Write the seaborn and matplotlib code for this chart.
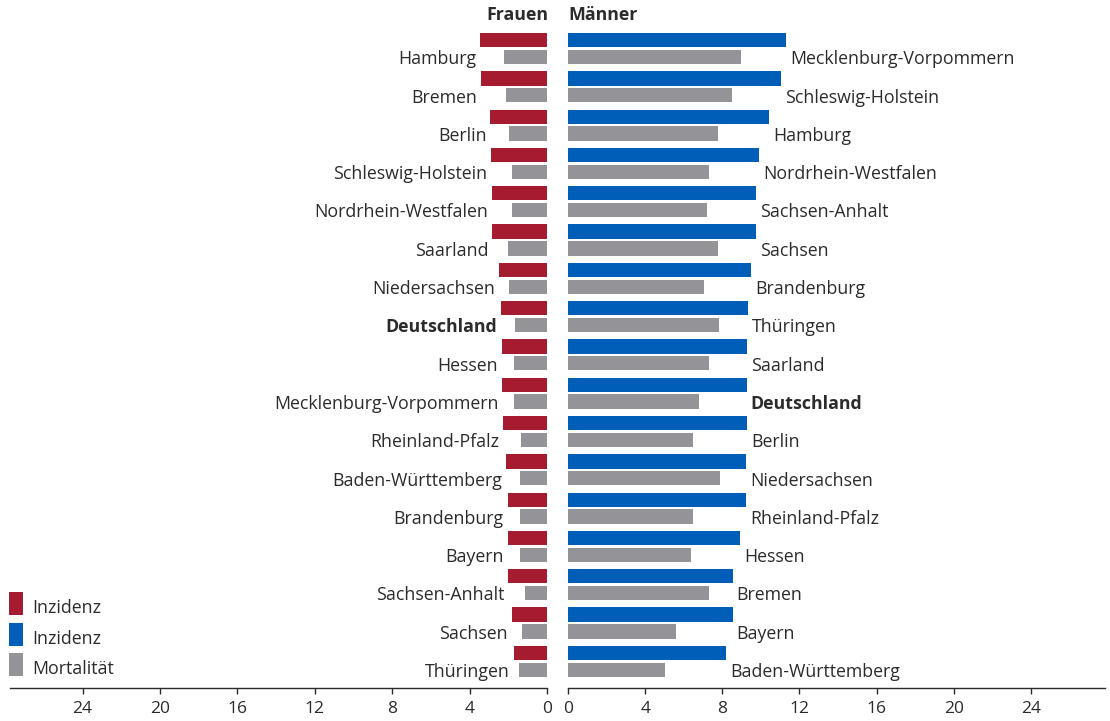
import matplotlib
matplotlib.use("Agg")
import matplotlib.pyplot as plt
from matplotlib.patches import Rectangle
import seaborn as sns
import pandas as pd

# ---------------- data ----------------
frauen_states = ["Hamburg", "Bremen", "Berlin", "Schleswig-Holstein", "Nordrhein-Westfalen",
                 "Saarland", "Niedersachsen", "Deutschland", "Hessen", "Mecklenburg-Vorpommern",
                 "Rheinland-Pfalz", "Baden-Württemberg", "Brandenburg", "Bayern",
                 "Sachsen-Anhalt", "Sachsen", "Thüringen"]
frauen_inzidenz = [3.44, 3.39, 2.92, 2.87, 2.82, 2.82, 2.50, 2.40, 2.35, 2.30,
                   2.25, 2.14, 2.04, 2.04, 1.99, 1.83, 1.73]
frauen_mortalitaet = [2.20, 2.14, 1.94, 1.83, 1.83, 2.04, 1.94, 1.63, 1.73, 1.73,
                      1.32, 1.37, 1.42, 1.37, 1.16, 1.27, 1.47]

maenner_states = ["Mecklenburg-Vorpommern", "Schleswig-Holstein", "Hamburg", "Nordrhein-Westfalen",
                  "Sachsen-Anhalt", "Sachsen", "Brandenburg", "Thüringen", "Saarland",
                  "Deutschland", "Berlin", "Niedersachsen", "Rheinland-Pfalz", "Hessen",
                  "Bremen", "Bayern", "Baden-Württemberg"]
maenner_inzidenz = [11.31, 11.05, 10.43, 9.91, 9.75, 9.75, 9.49, 9.33, 9.28,
                    9.28, 9.28, 9.23, 9.23, 8.92, 8.55, 8.55, 8.19]
maenner_mortalitaet = [8.97, 8.50, 7.78, 7.31, 7.20, 7.78, 7.05, 7.83, 7.31,
                       6.79, 6.48, 7.88, 6.48, 6.37, 7.31, 5.60, 5.03]

xticks = [0, 4, 8, 12, 16, 20, 24]
legend_labels = ["Inzidenz", "Inzidenz", "Mortalität"]

RED = "#A51C30"
BLUE = "#005EB8"
GREY = "#949498"
TXT = "#2b2b2b"

sns.set_theme(style="white")
plt.rcParams["font.family"] = ["Open Sans", "DejaVu Sans"]

W, H = 1110, 721
fig = plt.figure(figsize=(W / 100, H / 100), dpi=100)

top_px, bot_px = 25, 688
ax_h = (bot_px - top_px) / H
ax_b = (H - bot_px) / H
axL = fig.add_axes([10 / W, ax_b, 537 / W, ax_h])
axR = fig.add_axes([568 / W, ax_b, 537 / W, ax_h])

def long_df(states, inz, mort):
    return pd.DataFrame({
        "Land": states * 2,
        "Wert": list(inz) + list(mort),
        "Maß": ["Inzidenz"] * len(states) + ["Mortalität"] * len(states),
    })

dfL = long_df(frauen_states, frauen_inzidenz, frauen_mortalitaet)
dfR = long_df(maenner_states, maenner_inzidenz, maenner_mortalitaet)

sns.barplot(data=dfL, x="Wert", y="Land", hue="Maß", order=frauen_states,
            hue_order=["Inzidenz", "Mortalität"], palette=[RED, GREY],
            orient="h", width=0.88, gap=0.15, dodge=True, saturation=1,
            legend=False, ax=axL, linewidth=0)
sns.barplot(data=dfR, x="Wert", y="Land", hue="Maß", order=maenner_states,
            hue_order=["Inzidenz", "Mortalität"], palette=[BLUE, GREY],
            orient="h", width=0.88, gap=0.15, dodge=True, saturation=1,
            legend=False, ax=axR, linewidth=0)

n = len(frauen_states)
for ax, xmax, inv in [(axL, 27.75, True), (axR, 27.85, False)]:
    ax.set_ylim(n - 1 + 0.697, -0.614)
    if inv:
        ax.set_xlim(xmax, 0)
    else:
        ax.set_xlim(0, xmax)
    ax.set_xticks(xticks)
    ax.set_xticklabels([str(t) for t in xticks])
    ax.set_yticks([])
    ax.set_xlabel("")
    ax.set_ylabel("")
    for s in ["top", "left", "right"]:
        ax.spines[s].set_visible(False)
    ax.spines["bottom"].set_color(TXT)
    ax.spines["bottom"].set_linewidth(1.0)
    ax.tick_params(axis="x", direction="out", length=4, width=1.0, color=TXT,
                   labelsize=12.5, labelcolor=TXT, pad=5.5, bottom=True)
    ax.set_facecolor("none")

FS = 12.8
for i, (st, v) in enumerate(zip(frauen_states, frauen_inzidenz)):
    axL.text(v + 0.2, i + 0.28, st, ha="right", va="center", fontsize=FS, color=TXT,
             fontweight="bold" if st == "Deutschland" else "normal")
for i, (st, v) in enumerate(zip(maenner_states, maenner_inzidenz)):
    axR.text(v + 0.2, i + 0.28, st, ha="left", va="center", fontsize=FS, color=TXT,
             fontweight="bold" if st == "Deutschland" else "normal")

fig.text(548 / W, 1 - 15 / H, "Frauen", ha="right", va="center", fontsize=FS,
         fontweight="bold", color=TXT)
fig.text(568 / W, 1 - 15 / H, "Männer", ha="left", va="center", fontsize=FS,
         fontweight="bold", color=TXT)

# legend
for k, (lab, col) in enumerate(zip(legend_labels, [RED, BLUE, GREY])):
    y0 = 592 + k * 30.5
    fig.add_artist(Rectangle((9 / W, 1 - (y0 + 23) / H), 14 / W, 23 / H,
                             transform=fig.transFigure, facecolor=col, edgecolor="none"))
    fig.text(32 / W, 1 - (y0 + 16) / H, lab, ha="left", va="center", fontsize=FS, color=TXT)

fig.savefig("out.png", dpi=100)
